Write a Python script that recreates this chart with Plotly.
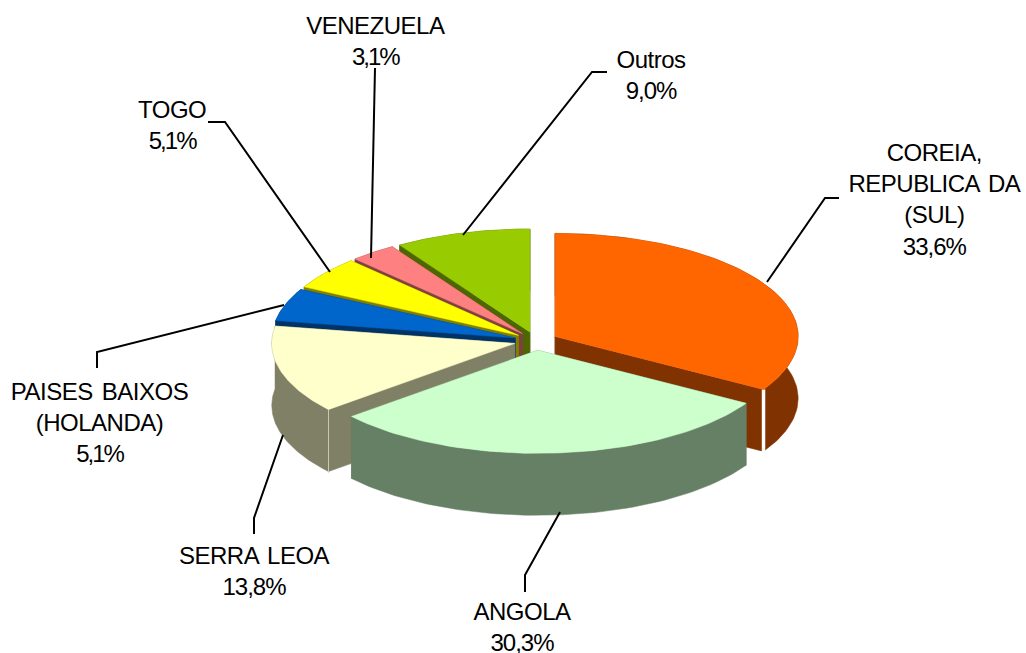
import math
import numpy as np
import plotly.graph_objects as go

# Data
categories = ["COREIA,<br>REPUBLICA DA<br>(SUL)", "ANGOLA", "SERRA LEOA",
              "PAISES BAIXOS<br>(HOLANDA)", "TOGO", "VENEZUELA", "Outros"]
values = [33.6, 30.3, 13.8, 5.1, 5.1, 3.1, 9.0]

# Styles
top_colors = ["#FF6600", "#CCFFCC", "#FFFFCC", "#0066CC", "#FFFF00", "#FF8080", "#99CC00"]
side_colors = ["#803300", "#668066", "#808066", "#003366", "#808000", "#804040", "#4D6600"]
draw_order = [6, 5, 4, 3, 2, 0, 1]

# Projection of the tilted pie, in canvas pixels
W, H = 1026, 653
CX, CY, RX, RY, DEPTH, EXPLODE = 536, 341, 243, 103, 62, 22
TILT = RY / RX

# Label block centres and leader-line bends
label_pos = [(934, 199), (522, 627), (254, 571), (99, 422), (172, 125), (375, 41), (651, 75)]
leaders = [
    [(767, 282), (825, 198), (839, 198)],
    [(560, 512), (525, 575), (525, 592)],
    [(283, 435), (254, 518), (254, 534)],
    [(284, 305), (97, 352), (97, 368)],
    [(330, 272), (225, 122), (208, 122)],
    [(371, 258), (375, 75), (375, 68)],
    [(463, 235), (592, 72), (607, 72)],
]

total = sum(values)
edges = np.concatenate([[0], np.cumsum(values)]) / total * 2 * math.pi


def rim(ax, ay, t):
    return ax + RX * np.sin(t), ay - RY * np.cos(t)


def poly(x, y, color):
    return go.Scatter(x=list(x) + [x[0]], y=list(y) + [y[0]], mode="lines", fill="toself",
                      fillcolor=color, line=dict(color=color, width=0.5),
                      hoverinfo="skip", showlegend=False)


fig = go.Figure()
for i in draw_order:
    a0, a1 = edges[i], edges[i + 1]
    mid = (a0 + a1) / 2
    ax = CX + EXPLODE * math.sin(mid)
    ay = CY - EXPLODE * math.cos(mid) * TILT
    t = np.linspace(a0, a1, 80)
    rx, ry = rim(ax, ay, t)
    side, top = side_colors[i], top_colors[i]
    # outer wall
    fig.add_trace(poly(np.r_[rx, rx[::-1]], np.r_[ry, ry[::-1] + DEPTH], side))
    # radial walls
    for k in (0, -1):
        fig.add_trace(poly([ax, rx[k], rx[k], ax], [ay, ry[k], ry[k] + DEPTH, ay + DEPTH], side))
    # edge highlight where the radial wall meets the outer wall
    if i in (0, 2):
        fig.add_trace(go.Scatter(x=[rx[-1] if i == 0 else rx[0]] * 2,
                                 y=[(ry[-1] if i == 0 else ry[0]), (ry[-1] if i == 0 else ry[0]) + DEPTH + 1],
                                 mode="lines",
                                 line=dict(color="white" if i == 0 else "#C8C8B8", width=3.5 if i == 0 else 1),
                                 hoverinfo="skip", showlegend=False))
    # top face
    fig.add_trace(poly(np.r_[ax, rx], np.r_[ay, ry], top))

for pts in leaders:
    fig.add_trace(go.Scatter(x=[p[0] for p in pts], y=[p[1] for p in pts], mode="lines",
                             line=dict(color="black", width=2), hoverinfo="skip", showlegend=False))

for name, val, (lx, ly) in zip(categories, values, label_pos):
    txt = f"{name}<br>{val:.1f}%".replace(".", ",")
    fig.add_annotation(x=lx, y=ly, text=txt, showarrow=False, xanchor="center", yanchor="middle",
                       align="center", font=dict(family="Liberation Sans, Arial, sans-serif", size=24, color="black"))

fig.update_layout(width=W, height=H, margin=dict(l=0, r=0, t=0, b=0),
                  paper_bgcolor="white", plot_bgcolor="white",
                  xaxis=dict(range=[0, W], visible=False, fixedrange=True),
                  yaxis=dict(range=[H, 0], visible=False, fixedrange=True))

spacing_js = """
document.body.style.margin='0';
document.documentElement.style.overflow='hidden';
document.querySelectorAll('text.annotation-text tspan.line').forEach(function(t){
  var s=t.textContent;
  if(s.endsWith('%')){ t.style.letterSpacing = /,1%$/.test(s) ? '-2px' : '-1px'; }
  else { t.style.letterSpacing='-0.5px'; t.style.wordSpacing='3px'; }
});
"""
fig.write_html("out.html", config={"displayModeBar": False}, post_script=spacing_js)
